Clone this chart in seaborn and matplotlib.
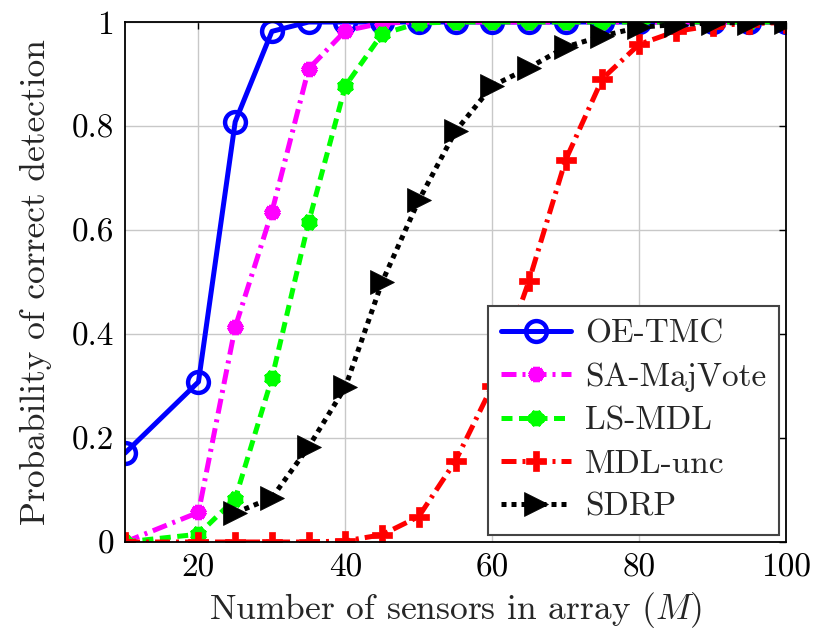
import matplotlib
matplotlib.use("Agg")
import matplotlib.pyplot as plt
import seaborn as sns
import pandas as pd

# Array sizes (M) and detection probabilities of each method
m_values = [10, 20, 25, 30, 35, 40, 45, 50, 55, 60, 65, 70, 75, 80, 85, 90, 95, 100]
oe_tmc = [0.171, 0.308, 0.808, 0.982, 1.0, 1.0, 1.0, 1.0, 1.0, 1.0, 1.0, 1.0, 1.0, 1.0, 1.0, 1.0, 1.0, 1.0]
sa_majvote = [0.0, 0.057, 0.413, 0.635, 0.910, 0.983, 0.998, 1.0, 1.0, 1.0, 1.0, 1.0, 1.0, 1.0, 1.0, 1.0, 1.0, 1.0]
ls_mdl = [0.0, 0.015, 0.083, 0.315, 0.615, 0.877, 0.977, 0.998, 1.0, 1.0, 1.0, 1.0, 1.0, 1.0, 1.0, 1.0, 1.0, 1.0]
mdl_unc = [0.0, 0.0, 0.0, 0.0, 0.0, 0.002, 0.014, 0.049, 0.156, 0.300, 0.502, 0.735, 0.891, 0.957, 0.982, 0.993, 0.997, 0.999]
sdrp_m = [25, 30, 35, 40, 45, 50, 55, 60, 65, 70, 75, 80, 85, 90, 95, 100]
sdrp = [0.056, 0.085, 0.183, 0.298, 0.500, 0.657, 0.790, 0.877, 0.912, 0.952, 0.973, 0.990, 0.995, 0.998, 0.999, 1.0]

x_ticks = [20, 40, 60, 80, 100]
y_ticks = [0, 0.2, 0.4, 0.6, 0.8, 1]
y_tick_labels = ["0", "0.2", "0.4", "0.6", "0.8", "1"]

sns.set_theme(style="whitegrid")
plt.rcParams.update({
    "font.family": ["cmr10", "DejaVu Serif"],
    "mathtext.fontset": "cm",
    "axes.formatter.use_mathtext": True,
    "axes.unicode_minus": False,
})

fig = plt.figure(figsize=(8.14, 6.36), dpi=100)
ax = fig.add_axes([0.1536, 0.1478, 0.8120, 0.8176])

series = [
    ("OE-TMC", m_values, oe_tmc, dict(color="#0000ff", linestyle="-", marker="o",
                                      markersize=15, markeredgewidth=3.2, fillstyle="none",
                                      markeredgecolor="#0000ff")),
    ("SA-MajVote", m_values, sa_majvote, dict(color="#ff00ff", linestyle=(0, (3.0, 1.2, 0.6, 1.2)),
                                              marker=(6, 2, 0), markersize=11, markeredgewidth=5,
                                              markeredgecolor="#ff00ff")),
    ("LS-MDL", m_values, ls_mdl, dict(color="#00ff00", linestyle=(0, (2.2, 1.3)),
                                      marker=(8, 2, 0), markersize=11, markeredgewidth=5.5,
                                      markeredgecolor="#00ff00")),
    ("MDL-unc", m_values, mdl_unc, dict(color="#ff0000", linestyle=(0, (3.0, 1.2, 0.6, 1.2)),
                                        marker="P", markersize=15, markeredgewidth=0.5,
                                        markeredgecolor="#ff0000")),
    ("SDRP", sdrp_m, sdrp, dict(color="#000000", linestyle=(0, (1.0, 1.0)),
                                marker=">", markersize=17, markeredgewidth=0.5,
                                markeredgecolor="#000000")),
]

for name, xs, ys, style in series:
    df = pd.DataFrame({"M": xs, "P": ys})
    sns.lineplot(data=df, x="M", y="P", ax=ax, label=name, linewidth=3.6, **style)

ax.set_xlim(10, 100)
ax.set_ylim(0, 1)
ax.set_xticks(x_ticks)
ax.set_xticklabels([str(t) for t in x_ticks])
ax.set_yticks(y_ticks)
ax.set_yticklabels(y_tick_labels)

ax.grid(True, color="#c8c8c8", linewidth=1.0)
for sp in ax.spines.values():
    sp.set_color("black")
    sp.set_linewidth(1.3)
ax.tick_params(axis="both", which="both", direction="in", length=5, width=1,
               colors="black", labelsize=24, top=True, right=True, pad=8)

ax.set_xlabel("Number of sensors in array ($M$)", fontsize=25.5, labelpad=6)
ax.set_ylabel("Probability of correct detection", fontsize=25.5, labelpad=14)

leg = ax.legend(loc="lower right", fontsize=24, frameon=True, fancybox=False,
                framealpha=1, edgecolor="#444444", borderaxespad=0.2,
                handlelength=2.1, handletextpad=0.4, labelspacing=0.42,
                borderpad=0.4)
leg.get_frame().set_linewidth(1.5)

fig.savefig("out.png", dpi=100)
